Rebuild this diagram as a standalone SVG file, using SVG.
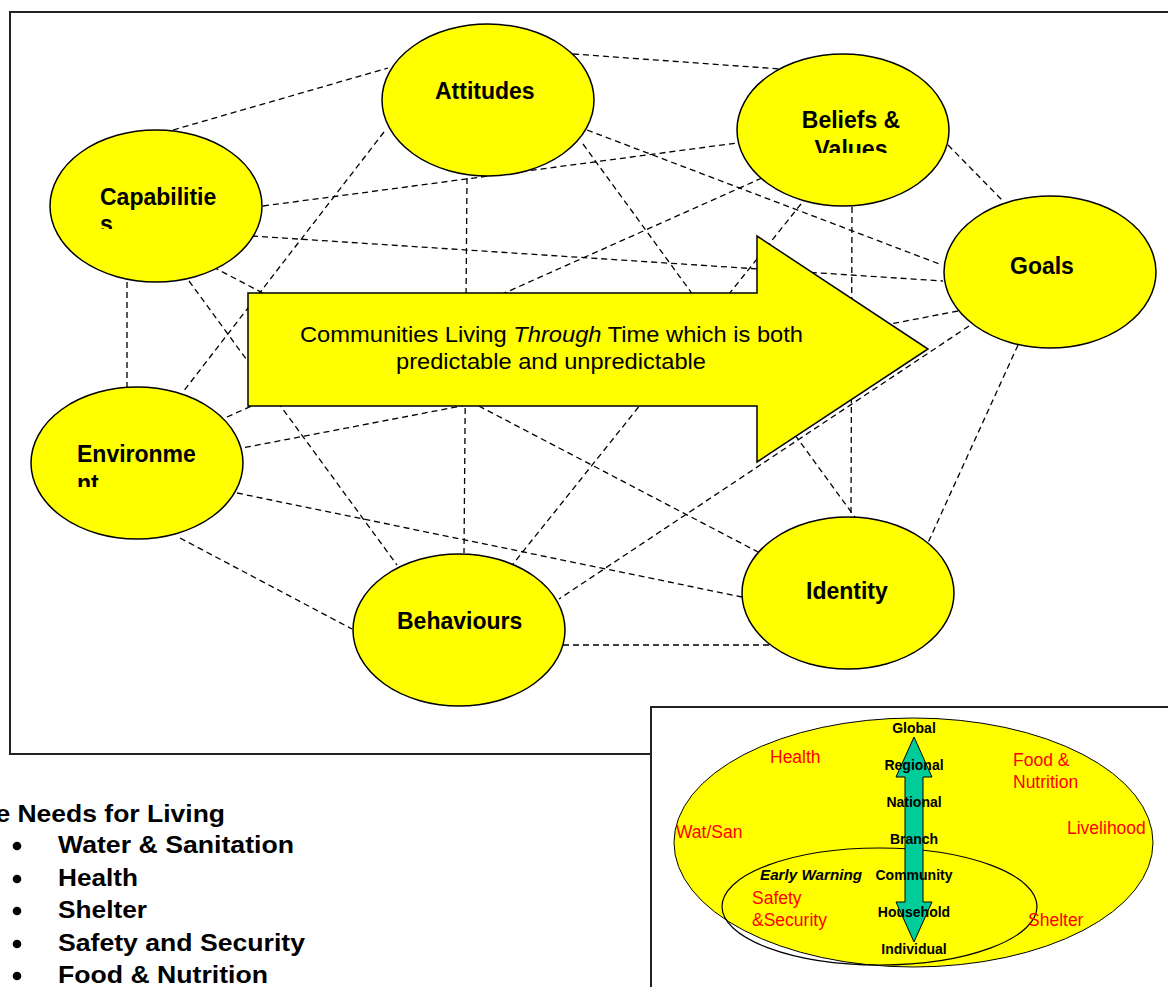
<svg xmlns="http://www.w3.org/2000/svg" width="1168" height="987" viewBox="0 0 1168 987">
<style>
.frame{fill:#fff;stroke:#222;stroke-width:2}
.node{fill:#ffff00;stroke:#000;stroke-width:1.5}
.lbl{font-family:"Liberation Sans",Arial,sans-serif;font-weight:bold;font-size:23px;fill:#000}
.conn line{stroke:#000;stroke-width:1.3;stroke-dasharray:6 4;fill:none}
.arrowtxt{font-family:"Liberation Sans",Arial,sans-serif;font-size:21.5px;fill:#000}
.list{font-family:"Liberation Sans",Arial,sans-serif;font-weight:bold;font-size:23.5px;fill:#000}
.lvl{font-family:"Liberation Sans",Arial,sans-serif;font-weight:bold;font-size:14px;fill:#000;text-anchor:middle}
.red{font-family:"Liberation Sans",Arial,sans-serif;font-size:17.5px;fill:#ff0000}
</style>
<defs>
<clipPath id="clipCap"><rect x="60" y="150" width="200" height="79"/></clipPath>
<clipPath id="clipBel"><rect x="760" y="80" width="180" height="73"/></clipPath>
<clipPath id="clipEnv"><rect x="40" y="420" width="200" height="67"/></clipPath>
</defs>
<rect width="1168" height="987" fill="#fff"/>
<rect id="outer-frame" class="frame" x="10" y="12" width="1170" height="742"/>

<g id="connectors" class="conn">
<line x1="173" y1="130" x2="388" y2="68"/>
<line x1="573" y1="54" x2="780" y2="69"/>
<line x1="263" y1="206" x2="737" y2="143"/>
<line x1="252" y1="236" x2="943" y2="281"/>
<line x1="587" y1="130" x2="942" y2="265"/>
<line x1="583" y1="144" x2="857" y2="520"/>
<line x1="384" y1="132" x2="183" y2="392"/>
<line x1="467" y1="178" x2="464" y2="553"/>
<line x1="762" y1="178" x2="227" y2="417"/>
<line x1="852" y1="207" x2="851" y2="518"/>
<line x1="801" y1="204" x2="513" y2="564"/>
<line x1="948" y1="145" x2="1003" y2="201"/>
<line x1="958" y1="311" x2="242" y2="448"/>
<line x1="969" y1="326" x2="559" y2="599"/>
<line x1="1018" y1="345" x2="927" y2="545"/>
<line x1="563" y1="645" x2="770" y2="645"/>
<line x1="237" y1="493" x2="742" y2="597"/>
<line x1="180" y1="538" x2="352" y2="629"/>
<line x1="127" y1="282" x2="127" y2="388"/>
<line x1="189" y1="281" x2="397" y2="565"/>
<line x1="213" y1="267" x2="758" y2="552"/>
</g>

<g id="time-arrow">
<polygon points="248,293 757,293 757,236 928,349 757,462 757,406 248,406" fill="#ffff00" stroke="#000" stroke-width="1.5"/>
<text class="arrowtxt" x="551.5" y="342" text-anchor="middle" textLength="503" lengthAdjust="spacingAndGlyphs">Communities Living <tspan font-style="italic">Through</tspan> Time which is both</text>
<text class="arrowtxt" x="551" y="369" text-anchor="middle" textLength="310" lengthAdjust="spacingAndGlyphs">predictable and unpredictable</text>
</g>

<g id="node-capabilities">
<ellipse class="node" cx="156" cy="206" rx="106" ry="76"/>
<g clip-path="url(#clipCap)">
<text class="lbl" x="100" y="205">Capabilitie</text>
<text class="lbl" x="100" y="232">s</text>
</g>
</g>
<g id="node-attitudes">
<ellipse class="node" cx="488" cy="100" rx="106" ry="76"/>
<text class="lbl" x="435" y="99">Attitudes</text>
</g>
<g id="node-beliefs">
<ellipse class="node" cx="843" cy="130" rx="106" ry="76"/>
<g clip-path="url(#clipBel)">
<text class="lbl" x="851" y="128" text-anchor="middle">Beliefs &amp;</text>
<text class="lbl" x="851" y="157" text-anchor="middle">Values</text>
</g>
</g>
<g id="node-goals">
<ellipse class="node" cx="1050" cy="272" rx="106" ry="76"/>
<text class="lbl" x="1010" y="274">Goals</text>
</g>
<g id="node-environment">
<ellipse class="node" cx="137" cy="463" rx="106" ry="76"/>
<g clip-path="url(#clipEnv)">
<text class="lbl" x="77" y="462">Environme</text>
<text class="lbl" x="77" y="491">nt</text>
</g>
</g>
<g id="node-behaviours">
<ellipse class="node" cx="459" cy="630" rx="106" ry="76"/>
<text class="lbl" x="397" y="629">Behaviours</text>
</g>
<g id="node-identity">
<ellipse class="node" cx="848" cy="593" rx="106" ry="76"/>
<text class="lbl" x="806" y="599">Identity</text>
</g>

<g id="needs-list">
<text class="list" x="-4.6" y="822" textLength="229.6" lengthAdjust="spacingAndGlyphs">e Needs for Living</text>
<circle cx="17" cy="846" r="4.3"/>
<text class="list" x="58" y="853" textLength="236" lengthAdjust="spacingAndGlyphs">Water &amp; Sanitation</text>
<circle cx="17" cy="879" r="4.3"/>
<text class="list" x="58" y="886" textLength="80" lengthAdjust="spacingAndGlyphs">Health</text>
<circle cx="17" cy="911" r="4.3"/>
<text class="list" x="58" y="918" textLength="89" lengthAdjust="spacingAndGlyphs">Shelter</text>
<circle cx="17" cy="944" r="4.3"/>
<text class="list" x="58" y="951" textLength="247" lengthAdjust="spacingAndGlyphs">Safety and Security</text>
<circle cx="17" cy="976" r="4.3"/>
<text class="list" x="58" y="983" textLength="210" lengthAdjust="spacingAndGlyphs">Food &amp; Nutrition</text>
</g>

<g id="inset">
<rect class="frame" x="651" y="707" width="530" height="300" stroke="#000"/>
<ellipse id="inset-outer" cx="913.5" cy="842.5" rx="239.5" ry="124.5" fill="#ffff00" stroke="#000" stroke-width="1"/>
<ellipse id="inset-inner" cx="879.5" cy="906.5" rx="157.5" ry="58.5" fill="none" stroke="#000" stroke-width="1.2"/>
<polygon id="level-arrow" points="914,737 932,777 923,777 923,902 932,902 914,942 896,902 905,902 905,777 896,777" fill="#00cc99" stroke="#000" stroke-width="1"/>
<text class="lvl" x="914" y="733">Global</text>
<text class="lvl" x="914" y="770">Regional</text>
<text class="lvl" x="914" y="807">National</text>
<text class="lvl" x="914" y="844">Branch</text>
<text class="lvl" x="914" y="880">Community</text>
<text class="lvl" x="914" y="917">Household</text>
<text class="lvl" x="914" y="954">Individual</text>
<text class="red" x="770" y="763">Health</text>
<text class="red" x="1013" y="766">Food &amp;</text>
<text class="red" x="1013" y="788">Nutrition</text>
<text class="red" x="676" y="838">Wat/San</text>
<text class="red" x="1067" y="834">Livelihood</text>
<text class="red" x="752" y="904">Safety</text>
<text class="red" x="752" y="926">&amp;Security</text>
<text class="red" x="1028" y="926">Shelter</text>
<text x="760" y="880" font-family="'Liberation Sans',Arial,sans-serif" font-weight="bold" font-style="italic" font-size="14.5" textLength="102" lengthAdjust="spacingAndGlyphs">Early Warning</text>
</g>
</svg>
